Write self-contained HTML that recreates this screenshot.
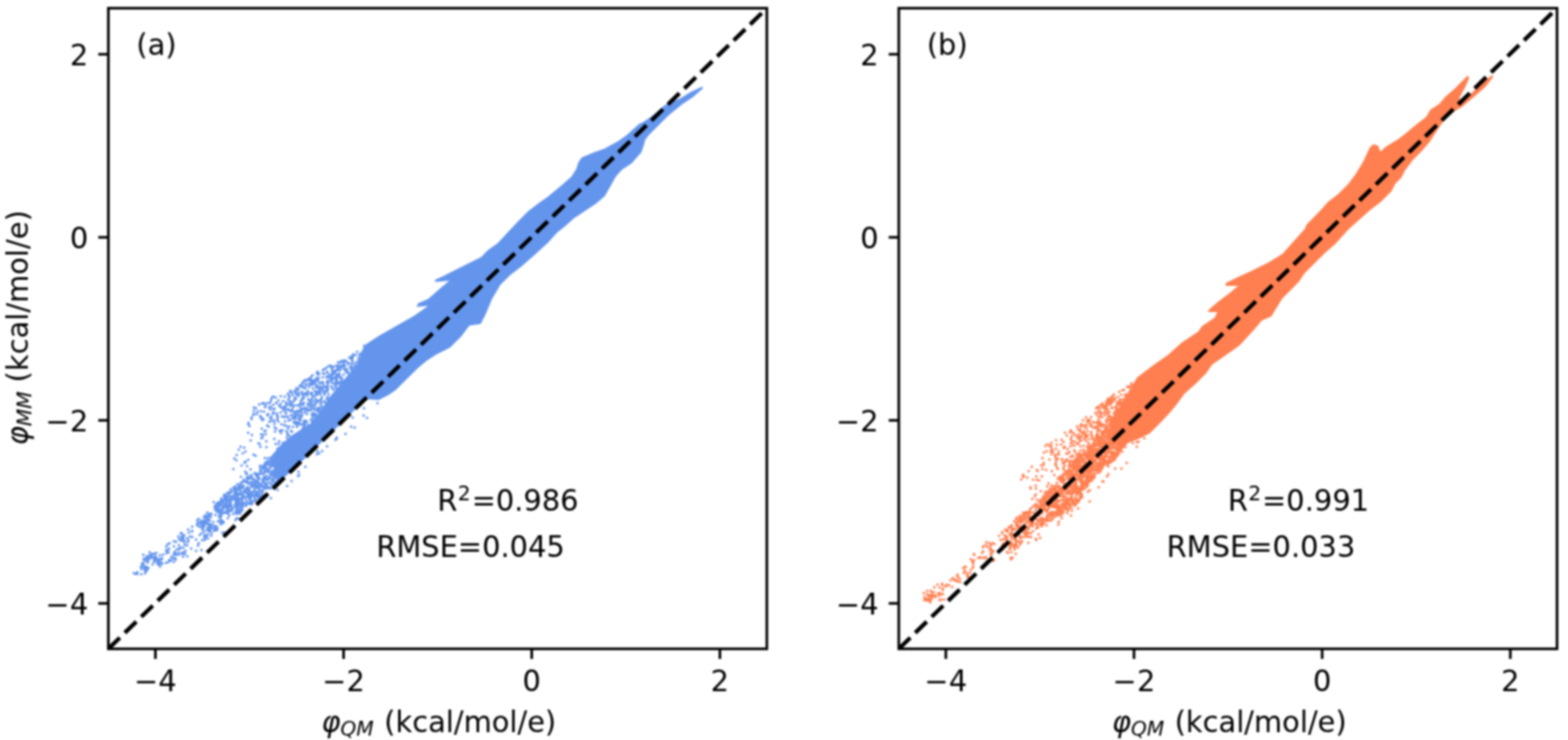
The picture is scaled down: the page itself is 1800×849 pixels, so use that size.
<!DOCTYPE html>
<html><head><meta charset="utf-8"><title>Scatter comparison</title>
<style>html,body{margin:0;padding:0;background:#fff;width:1800px;height:849px;overflow:hidden}</style>
</head><body>
<svg width="1800" height="849" viewBox="0 0 1800 849" style="display:block;filter:blur(0.8px);font-family:'DejaVu Sans','Liberation Sans',sans-serif" font-size="33.2">
<rect width="1800" height="849" fill="#fff"/>
<clipPath id="c0"><rect x="124.4" y="9.4" width="755.9" height="735"/></clipPath>
<g clip-path="url(#c0)">
<path d="M806.3 99.2 792.9 105.5 781.6 112.6 763.2 120.4 747.6 133.8 739.2 139.5 733.5 142.3 719.4 155 709.5 162 693.9 170.6 682.6 174.5 668 180.5 664 186 661.5 194 656.1 202.5 644.8 212.4 627.8 226.5 619.4 232.2 606.6 242.1 593.9 254.8 581 268.5 571.3 279.1 560 287 552.2 295 539.5 301.3 523.6 309.3 507.7 317.2 499 321.2 499.8 323.6 515.7 322 504.5 331.6 491.8 342.7 480 348 478 352 491.5 351 475.4 362.3 456.5 373 434.6 385.4 420 395 409 419 392 439 378 456 367 473 355 487 345 493 333.5 500.5 319.4 513.2 312 523.7 317.6 554.8 334.6 540.7 350 526 380 497 420 458 434.6 459 445.9 453.3 454.4 447.6 465.7 436.3 479.8 422.2 490 413.7 500.8 406.8 516.7 398.8 529.5 386.1 539 373.4 551.7 371.8 557 361.8 565 342.7 574.5 326.8 585.6 315.7 598.3 306.1 612.6 293.4 628.5 279.1 640 266.4 647.6 260.5 658.9 250.6 671.7 242.1 684.4 233.6 694.3 225.1 699.9 215.2 707 202.5 714 194.7 725 187.5 736.3 174.8 739.2 166.3 740.6 160.7 744.8 155 756.1 143.7 767.4 132.4 783 119.7 795.7 111.2 807 101.3Z" fill="#6495ed"/>
<path d="M378.2 430.8h0M381.9 433.9h0M417.9 399.6h0M357.8 475h0M346.3 452h0M387.5 431.5h0M391.2 436.9h0M358.3 452.4h0M370.8 424.4h0M352 451.3h0M395.7 423.2h0M367.6 469.2h0M343.7 442.9h0M333.5 460.5h0M382.2 439.7h0M372.7 460.1h0M335.5 463.7h0M404 422.9h0M364.7 460.5h0M335.3 470.3h0M355.1 435.7h0M351 442.5h0M383 420.7h0M363.2 450.5h0M376.4 455.5h0M365.3 434.1h0M339.3 457.2h0M371.9 442.4h0M404.6 410.8h0M345 470.6h0M350.4 445.7h0M353.3 462.9h0M337.6 459.7h0M346.1 472.3h0M359.9 473.5h0M343.2 476h0M361.5 448.8h0M404.4 415.7h0M351.6 452.5h0M353.3 436.1h0M341.8 484.2h0M361.8 439.9h0M375.1 447.1h0M345.5 441.4h0M359.3 445.8h0M339.5 449.9h0M385.1 444.5h0M370.7 447.3h0M405.6 408.4h0M336.6 460.6h0M343.9 465.2h0M349.8 488.3h0M365.8 442.8h0M376.4 428.2h0M379.9 438.2h0M386.2 445.2h0M333.6 471.3h0M403.7 420.3h0M343.4 485.1h0M391.9 436.7h0M337.5 478.9h0M336 479.6h0M370.8 428.2h0M398.4 423.4h0M347.1 441.5h0M414.1 405.4h0M365.4 444.7h0M360.8 476.6h0M366.4 429.1h0M336.4 467.6h0M337.6 477.4h0M356.4 440h0M372.7 444.3h0M348.1 444.5h0M382.7 446.9h0M365.1 427h0M342.5 446.3h0M339.4 476.9h0M375.3 447.4h0M396.3 419.7h0M395.6 415.1h0M374.5 432.5h0M373.1 462h0M396.9 424.8h0M390.8 423.5h0M376.5 440.5h0M410.4 414.5h0M348.9 487.7h0M349 452h0M342.8 446.4h0M350.8 483h0M370.6 424.6h0M358.4 477.3h0M405.5 406.8h0M363.5 433.5h0M362.5 436.9h0M339.2 476.8h0M413.4 407.5h0M372.5 428.7h0M356.8 467.4h0M389 424.5h0M380.2 433.6h0M348.7 483.8h0M367.2 446.4h0M363.9 428.1h0M375.3 456.7h0M407.7 416.2h0M366 438.7h0M332.9 464.5h0M371.2 449h0M333.6 471.7h0M350.9 485.2h0M388.1 424.8h0M377.2 452.1h0M357.1 440.1h0M360.4 436.2h0M391.4 414.4h0M403.8 417.6h0M349.9 469.5h0M350.1 435.9h0M349.2 490.5h0M346.7 486.7h0M389.8 432.1h0M363.6 427.5h0M362.1 475.5h0M353.6 465.2h0M351 441.6h0M368.7 443.4h0M384.7 427.1h0M358.8 430.5h0M347.8 468.8h0M333 449.2h0M351.1 435.9h0M381 431.6h0M396.4 414.5h0M343.8 481.6h0M382 427h0M353.4 471.2h0M415.1 405.4h0M352.9 453.7h0M365.6 448.9h0M344.7 463.1h0M358.1 450.5h0M362.1 435.8h0M395.5 415h0M338 456h0M363.4 444.4h0M404.2 410.7h0M400.7 416.8h0M404.6 412.9h0M376.6 432.6h0M333.7 450.1h0M405.4 406.5h0M386.4 425h0M367.8 452.1h0M368.3 459.6h0M370.2 438h0M332.1 455.7h0M375.4 432h0M347.4 491.2h0M412.4 411.2h0M403.4 409.1h0M375.5 426.3h0M344.5 486.8h0M345.2 471.9h0M340.4 447h0M387.3 430.3h0M386.7 433.6h0M401.8 420.9h0M362.4 469.9h0M403.8 419.9h0M385.4 437.4h0M350.2 452.2h0M386.2 441.5h0M342.1 486.8h0M338.6 457.5h0M331 458.2h0M380.6 429.3h0M388.1 438.5h0M352.4 483.5h0M335.3 471.3h0M348 454.6h0M375.6 457.9h0M403.2 412.1h0M360.2 468.5h0M394.1 421.1h0M379.8 437.7h0M353.9 457.9h0M397.2 427h0M351.5 483.9h0M369.3 466h0M381.3 425.2h0M349.1 456h0M337 484.3h0M339.6 486h0M335.9 452.9h0M362.7 475.1h0M335.9 480h0M386.8 423.2h0M398.2 415.1h0M358.7 436.5h0M355.4 465.1h0M361.2 464.1h0M403.8 411.7h0M346.6 443.5h0M361.2 476.5h0M353.5 487.5h0M339.9 457.4h0M337.3 472.2h0M386.5 429.9h0M366.1 433.7h0M410.1 403.4h0M351 440.2h0M344 477.6h0M347.7 457.5h0M365.9 472.5h0M386.9 440.4h0M342.8 454.2h0M366.4 467.6h0M387.7 439.5h0M358.2 456.6h0M386.7 419.5h0M368.1 439.6h0M385.9 435.1h0M346.5 459.1h0M333.4 448.2h0M344.5 471.6h0M339.1 451.3h0M376.1 457.6h0M348.9 462.1h0M365.3 469.7h0M354.7 434.2h0M367.8 463.4h0M350.2 467.7h0M349.7 473.5h0M341.6 471.1h0M372.2 450.1h0M350.3 489.5h0M361.8 457.6h0M372.1 423.8h0M406.6 421.2h0M357.2 442h0M368.6 457.5h0M389.3 430.5h0M335.1 476.1h0M342.6 476.5h0M389 419.5h0M351 471.1h0M345.1 482.3h0M347.8 462.9h0M380 420.9h0M374.2 443.8h0M372.1 450.1h0M363.7 436h0M416.5 402.4h0M332.6 454.7h0M376 442.5h0M360.5 479.4h0M363 441.5h0M349 437.6h0M368 449.3h0M404.4 423.7h0M375.3 421.6h0M356.9 452.5h0M333.6 465.8h0M391.3 415.8h0M390 439.9h0M389 431.1h0M380.6 420.3h0M357.2 436.3h0M358.7 437.2h0M334.9 450.6h0M388 415.8h0M341 489.7h0M337.9 480.2h0M394.7 418.7h0M396 413.4h0M334.5 470.9h0M331.3 458.8h0M358 466.5h0M344.9 479.4h0M363.1 451.3h0M369.5 461.3h0M343 473.1h0M362.7 458.2h0M386.7 436h0M364.7 472.1h0M381 423.7h0M359.9 454.4h0M384.1 425.2h0M363.9 462.1h0M402.7 422.8h0M368 452.5h0M381.5 421.8h0M348 468.5h0M352.9 468.6h0M337.9 474h0M399.5 417.8h0M372.9 452.8h0M346.3 463.7h0M362.7 450.3h0M366.2 445.7h0M339.6 457h0M400.9 410.3h0M383.7 428.8h0M381 420.6h0M383.8 433.9h0M340.8 489h0M353.1 450.3h0M390.3 433.5h0M390.9 424.3h0M394.6 414.1h0M349.8 486.5h0M338.7 486h0M370.7 428.3h0M343 480.3h0M354 435.4h0M345.1 443.1h0M390.1 415.7h0M373 423.1h0M395.4 423.8h0M418.1 396.6h0M346.2 470.5h0M394 414.3h0M384.8 443.6h0M346.7 476.5h0M363.4 453.3h0M370.1 445.5h0M340.9 465h0M358.9 464.7h0M364.3 468.6h0M376.2 447h0M352.5 475.1h0M392.9 414.1h0M331.6 453.7h0M381.9 446.2h0M374.4 444.1h0M343.2 451.1h0M365 436.2h0M399.9 428.2h0M352.4 436.4h0M386.9 430.7h0M369 444.5h0M387.7 421h0M391.1 421.8h0M385.9 419.6h0M376.8 437.5h0M357.5 458.5h0M340.8 453.2h0M354.2 440.7h0M356.4 434.8h0M337.9 448.5h0M348.1 464.6h0M371.5 448.7h0M385.2 441h0M349.9 445.2h0M364.5 452.4h0M407.6 418.4h0M380.1 443.2h0M356.6 470.7h0M369.6 467.1h0M361.7 461.2h0M412.3 407.5h0M381.5 436h0M384.7 432.2h0M370.7 439.9h0M395.1 423.7h0M365.2 449.4h0M364.6 426.6h0M375 438.5h0M343 451.4h0M380.8 443.7h0M376.6 445.7h0M391.7 433.2h0M362.2 453.3h0M366.1 450h0M369.6 456.2h0M376 444.5h0M367 472.2h0M357.6 462.7h0M374.8 449.2h0M353.9 458.4h0M381.7 435.3h0M399.4 426.6h0M394.4 429.7h0M339 483.6h0M382.4 429.2h0M370.5 432.8h0M369.6 455.8h0M358.3 483.1h0M403.4 424.8h0M394.7 416.7h0M357.8 480.8h0M378 432.8h0M341.1 475.9h0M389.8 428.5h0M344 464.2h0M405.2 407.5h0M402.4 410.6h0M361.8 465.8h0M348.7 488.2h0M393.6 420.6h0M408.5 407h0M376.2 448.2h0M354.3 470.6h0M364.6 459.4h0M381.1 425.5h0M345.9 478.4h0M358.9 459.9h0M339.8 450.1h0M362.5 444h0M341.4 465.2h0M355.4 434.5h0M332.7 461.6h0M389.7 429.4h0M367.1 459.6h0M392.9 419.3h0M340.4 484.4h0M357.3 432.3h0M394.5 420h0M369.1 462.1h0M340 472.6h0M348.9 484.6h0M392.5 433.6h0M386.5 439.4h0M334.9 463.4h0M368.6 445.2h0M413.5 407.5h0M353.5 448.5h0M379 419.5h0M376.4 438.6h0M356.9 481.7h0M342.8 450.2h0M360 474.9h0M345.2 460.3h0M383.9 440.2h0M347.7 463.8h0M359.2 440.9h0M337.6 465.3h0M388.7 419.6h0M332.5 470.9h0M346.7 457.5h0M345.2 471.9h0M363.2 449h0M363.2 476.5h0M374.5 444h0M355.5 459.8h0M376.3 436.3h0M360.5 438h0M411.4 411.1h0M356.6 438.4h0M380.7 429.1h0M359.1 440.1h0M356.7 451h0M388.3 424.3h0M391.1 438.8h0M337.7 459.7h0M363.5 451.9h0M367.5 446.9h0M380.8 433.8h0M340.1 479.5h0M377.8 419.7h0M374 449.3h0M350.4 451.1h0M340.2 445.3h0M339.2 476.4h0M331.4 453.2h0M393.7 436.7h0M345.1 468.1h0M360.7 469.8h0M340.2 485.7h0M390.8 420h0M347.4 438.8h0M339.9 473.5h0M346.7 449.3h0M356.1 462.3h0M346.4 475.2h0M391.2 433.5h0M349.5 482.6h0M372.1 451.6h0M364.9 429.7h0M330.5 451.8h0M390.4 421.7h0M354.6 444h0M353.6 450.8h0M357.4 469.8h0M387.2 429.3h0M379.6 434.8h0M291.4 467.4h0M315.4 468.9h0M301.9 462.2h0M313.8 472.8h0M320.4 465.6h0M305.2 465.9h0M329.4 478.1h0M308.3 489.2h0M291.9 474.7h0M297.4 463.9h0M328.2 461.4h0M310.8 460.5h0M322.4 493.7h0M324.9 460.3h0M329.8 498.7h0M322.3 454.5h0M334.1 494.3h0M298.7 477.3h0M306.6 488h0M325 470.8h0M326.7 467.4h0M291.3 471.2h0M307.1 475.2h0M322.1 463.4h0M323 486.7h0M318.7 479.9h0M319.6 483.4h0M322.3 467h0M330.2 463.4h0M328.6 488.7h0M332 499.4h0M313.8 464.4h0M315.1 483.3h0M291.4 475.6h0M319.6 459.6h0M330.1 496.6h0M324.3 467.7h0M300.8 463.1h0M303 472.2h0M331.3 482.6h0M300.3 479h0M330.8 491.6h0M304.1 467.1h0M315.7 495h0M322.1 473.2h0M321 494.6h0M308.5 489.5h0M326.9 455h0M328.8 494.6h0M316.8 462.1h0M312.5 455.7h0M294.9 474.9h0M295.7 471.9h0M316.5 456.1h0M308.2 475.3h0M290.5 475.9h0M311.3 478.3h0M327.2 483.2h0M319 477.9h0M310.8 466.4h0M310.1 469.8h0M311.4 457.7h0M322.6 496.8h0M302.5 481h0M309.5 462.5h0M336.1 489.7h0M327.6 466.7h0M324.8 477.9h0M301.4 482h0M330.4 469.4h0M328.6 470.2h0M318 481.1h0M326.6 466.6h0M323.8 477.7h0M300.7 481.1h0M315 486.6h0M317.8 474.3h0M317.9 476.9h0M314.2 482.5h0M335.2 495.2h0M293.9 468.3h0M333.8 476.6h0M313.8 454.9h0M327.6 473h0M315.3 490.4h0M326.8 468.8h0M317.7 462.4h0M309.1 467.5h0M299.4 479h0M328.9 464.2h0M306.5 462.6h0M324.3 493.4h0M299.5 471.7h0M333.2 481.4h0M313.2 468.9h0M328.6 465.3h0M311.3 482.9h0M310 479.4h0M309.2 483.8h0M331.1 469.5h0M318 475.3h0M314.4 473.6h0M313.1 475.1h0M317.2 491.7h0M326.2 487.5h0M326.8 478.2h0M331.8 489h0M330.9 478.7h0M328.5 474.6h0M311.8 479.7h0M307.1 476.4h0M303.7 463.6h0M286.4 488.7h0M300 502.7h0M301.8 498.8h0M296.8 508.6h0M305 498.1h0M301.5 501.8h0M303.7 494.5h0M283.7 534.7h0M285 527.4h0M319.8 509.3h0M311.2 524.4h0M285.2 484.9h0M293.4 523h0M282.6 544h0M268.9 526.1h0M267.9 538.1h0M285.1 486.8h0M304.9 494.1h0M291 521.5h0M280.3 513.4h0M314.9 503.5h0M284.9 496.6h0M316.4 509.2h0M305.9 513h0M283.6 542.9h0M287.8 505.2h0M281.9 530.1h0M277.3 534h0M305.8 506.2h0M271.7 522h0M274 516.1h0M289.2 498.9h0M276.6 547h0M287.7 538.6h0M324.8 507.8h0M299 512.6h0M276.2 512.5h0M299.7 498.2h0M281.4 541.1h0M298.5 534.2h0M304.1 525.6h0M280.7 530.8h0M300.5 491.8h0M281.8 517.9h0M307.4 525.8h0M320.5 506.3h0M329.4 502h0M281.8 529.4h0M288.6 478.9h0M297.9 509.3h0M278.6 520.1h0M271.3 528h0M288.9 480.8h0M289.1 547.5h0M309.9 536.8h0M316.5 555.1h0M315.4 522.3h0M264.1 579.3h0M296.1 569.2h0M274.5 575h0M270.6 560.1h0M305.5 546.2h0M290.2 549.2h0M271.6 579.7h0M297.3 548h0M248.6 578h0M316.3 541.8h0M262.1 583.3h0M316.1 553.1h0M318.6 528.1h0M258.5 587.7h0M279.1 577h0M309.2 553.7h0M273.3 586.4h0M272.2 565.3h0M292.2 542.8h0M284.1 566.5h0M312.5 552.5h0M249.7 579h0M296 557.1h0M278.6 572.4h0M274.5 572.1h0M301.8 536.1h0M285.7 546.4h0M273.6 589.1h0M297.9 567.6h0M288 578.3h0M304.2 540.6h0M310.3 526h0M315.2 528.8h0M316.7 534.2h0M260.6 584.8h0M278.8 579.2h0M292.6 574.6h0M301.4 550.3h0M286.8 566h0M301.1 534.9h0M272.3 585.5h0M306.6 557.8h0M271.6 587.3h0M301.2 566.6h0M276 576.9h0M292.3 567.7h0M302.7 544.3h0M305 540.8h0M259.2 581.9h0M284.8 554.3h0M282.6 580.3h0M294.9 558.7h0M275.3 558.4h0M265.7 579.8h0M301.2 552.6h0M297.5 561.5h0M304.8 541.5h0M307.5 538.8h0M286.5 576.8h0M248.4 578.4h0M270 558h0M261.6 575.7h0M260.9 579.3h0M305.3 555.5h0M292.1 570.3h0M288.7 544.7h0M283.3 559.6h0M262.2 581.6h0M316.5 539.2h0M318.4 518.8h0M279 567h0M297.9 549h0M259.9 571.2h0M283.6 547.8h0M260.1 568.7h0M286.9 568.5h0M298.9 569.9h0M246.5 581.2h0M298.9 562.9h0M271.8 584h0M305 549.1h0M256.9 574.5h0M280.7 578h0M287.1 553.2h0M247.1 584.8h0M299.6 543.5h0M311.2 555.3h0M281.3 563.6h0M312.4 543.3h0M279.2 559.3h0M292.5 568.9h0M295.2 569.4h0M263.2 564.4h0M296.6 550.4h0M256 584.8h0M292.3 571.6h0M263.3 586.5h0M261.7 566.1h0M313.4 533.9h0M259.3 576.8h0M253.3 575.2h0M286.6 577.9h0M282.6 562h0M289.4 576.2h0M296.7 560.4h0M283.9 549.1h0M275.6 561.3h0M277.3 582.4h0M258.8 587.5h0M278.1 568.9h0M301.1 534.8h0M269.8 573.9h0M304.2 555.1h0M253.2 578.2h0M268.7 562.6h0M272.6 555.5h0M316.9 525.9h0M284.7 564.4h0M275.6 585.2h0M266.7 584.6h0M296.3 567.6h0M289.2 564.9h0M289.7 568h0M265.7 573.8h0M296.5 548.3h0M314.4 540.2h0M306.7 531h0M312.4 525.7h0M294.2 559.5h0M293.7 558.1h0M246.6 580.4h0M255.1 589.1h0M272.4 570.1h0M255.7 575.3h0M263.8 575.9h0M292.9 550.4h0M279.5 569.3h0M314.7 556.9h0M300.5 557.6h0M315.2 554.6h0M309.4 529.9h0M313.8 549.5h0M260.7 565.4h0M293.8 553.8h0M300.2 555.5h0M290.2 564.5h0M256.2 576.5h0M308.9 542.2h0M312.2 527.5h0M259.7 572.2h0M275.2 566.7h0M307.1 529.1h0M262.2 588.9h0M270.9 565.9h0M257.5 578.4h0M287 569.3h0M254.4 588.9h0M284.1 559h0M288.8 548.9h0M275.7 583.2h0M316.2 534.4h0M315.1 545.3h0M249.3 585.3h0M276.5 554.9h0M293.8 553.6h0M294.1 559.4h0M316.6 528.4h0M251.1 583.9h0M284.2 566.6h0M291.6 550.4h0M295.6 569.1h0M316.3 529.5h0M275.7 589h0M312 531.5h0M299.8 541.5h0M294.5 573.6h0M271.8 568.7h0M272.8 589h0M293 563.2h0M260 573.6h0M306.2 560.6h0M258.3 568h0M265.1 569.2h0M318.5 514.7h0M253.9 586.8h0M317.2 524.9h0M291.6 568.1h0M264.9 575.6h0M299.4 540.1h0M314.2 557.4h0M296.7 543.6h0M259.6 569h0M294.5 557.7h0M284.9 570.3h0M292.8 567.7h0M304.2 537.6h0M268.8 570h0M298.4 554.9h0M279.2 563.4h0M302.5 547.7h0M252.4 589.1h0M258.3 573.5h0M317.3 522.4h0M264.7 571.6h0M279.9 569.6h0M259.8 588.7h0M253.4 577.3h0M318.7 524.9h0M308.6 538.5h0M258.3 571.9h0M276.4 577.9h0M309.3 558.5h0M315.9 539h0M262.3 584.9h0M275.8 563.3h0M263.6 585.7h0M305.6 533.2h0M294 543.2h0M306.1 540.4h0M295.5 564.6h0M249 581.8h0M286 549.1h0M270.6 574.9h0M304.4 531.1h0M268.4 563h0M311.6 550.3h0M268.5 582.1h0M288.9 578.5h0M283.8 551.3h0M276.3 582.6h0M254.7 585.2h0M277.5 569.7h0M284.2 577.8h0M303.8 541.3h0M261.9 571.9h0M304.7 530.5h0M269.8 570.9h0M282.5 565.9h0M256.1 588.6h0M312.8 556.6h0M272.2 586h0M276.8 560.6h0M276.6 553.6h0M298.1 569.2h0M265.6 579.3h0M315.3 548.1h0M270.3 573.6h0M296.5 544.1h0M256.8 581.3h0M271.7 562.8h0M313.5 544.8h0M286.5 565.4h0M289.1 566.6h0M270.6 587.7h0M280.9 552.3h0M272.4 583.7h0M274.1 561.2h0M303.6 533.7h0M272.3 585.1h0M270.1 577.9h0M257.3 567.6h0M249.9 576.7h0M299.7 569.9h0M252.1 586.1h0M297.8 562.9h0M271.4 571.3h0M278 575.5h0M288 548.8h0M310.6 560.6h0M313.1 557.4h0M273.8 567.6h0M303.6 553.8h0M276.1 565.9h0M287.6 570.6h0M275.7 588.8h0M269 572.9h0M264.9 561.3h0M257.2 580.8h0M256.5 573.2h0M288.8 546.9h0M309.9 548h0M299.5 564.3h0M272.9 585.7h0M277 558.3h0M279.2 581.3h0M275.2 588.1h0M292.6 542.9h0M263.9 577.4h0M251.9 580.3h0M279.8 550.2h0M298.6 570.7h0M270.9 586.7h0M314.2 550.5h0M303.6 532.9h0M312.9 530.6h0M292.1 555.2h0M308.7 548.2h0M252.8 585.2h0M279.7 578h0M280.3 552.1h0M286.4 573.2h0M311 542.2h0M316.9 543.5h0M292 557.6h0M272.3 588h0M292.4 556h0M272.1 560.9h0M267.7 589.6h0M317.1 537.9h0M276.2 584.3h0M289.1 578.2h0M258.7 578.8h0M253 586.6h0M265.3 582.6h0M316.9 545.1h0M253.7 572h0M272.4 565.4h0M299.2 556.6h0M272 584.1h0M289 576.3h0M288 557.4h0M276 556h0M306.4 532.2h0M278.9 552.8h0M295 547.3h0M275.1 567.4h0M295 552.3h0M305.3 536.2h0M296.2 568.2h0M288.6 570.2h0M271.2 568h0M272.6 569.3h0M257 581.9h0M273.6 566.1h0M271.6 582.1h0M309.4 559.6h0M303.2 554h0M263.9 586.1h0M281.2 570.8h0M272.1 572.7h0M262.8 575h0M293.9 566.5h0M292.4 567.8h0M316.6 554.6h0M304.9 531.3h0M266.3 585.9h0M308.5 539.3h0M302.6 542.7h0M254.3 584.3h0M273 573.2h0M270.1 566.8h0M260.3 580.6h0M312.7 531.6h0M288.8 558.5h0M269.5 564h0M290 553.4h0M272.3 584.3h0M254.1 590.9h0M263.3 580.7h0M265.4 574.4h0M264.7 572.5h0M297.4 553.9h0M318.1 526.5h0M283.2 552.1h0M273 581.1h0M261 582.4h0M290.9 557.6h0M316.1 542.3h0M269.8 579.8h0M316.2 541.6h0M294.5 565.6h0M262.7 575.4h0M279.3 578.8h0M273.2 571h0M295.4 552.4h0M281.2 561.8h0M295.7 556.2h0M291.1 574.7h0M278.2 578.6h0M287.4 572.5h0M306.7 554.2h0M246.7 583.4h0M278 578.6h0M296.4 555.2h0M309.2 529.2h0M311.9 539.9h0M266.1 585.7h0M304.3 535.3h0M252.3 586.1h0M286.3 561.5h0M297.2 549.8h0M303.6 549.1h0M260 588.6h0M266.3 571.9h0M306.9 532.7h0M296.9 544.4h0M316 542.2h0M283.2 552.7h0M271.2 570.9h0M294.1 545.2h0M313.4 550.4h0M283 575.2h0M260.1 570.1h0M271.6 577.2h0M292.5 551.2h0M273.4 558.8h0M264.3 578.7h0M286.3 560.6h0M302.9 536.2h0M277.8 566.3h0M315.9 528.1h0M261.8 581.5h0M285.2 547.8h0M282.7 579.1h0M302.2 558.1h0M303.2 537.3h0M287.8 564.3h0M286.2 571h0M253 579.3h0M273 575.3h0M275.9 586.6h0M250.9 587.9h0M283.3 547.9h0M277.8 573.8h0M306.9 550.7h0M311.4 545.3h0M294.3 557.3h0M279.6 558.5h0M272.8 582.6h0M291.8 563h0M307.8 550.2h0M298.2 570.6h0M294 565h0M269.5 560.3h0M303.9 537.3h0M285.8 576.9h0M250.5 587h0M317 543.4h0M317.1 538.6h0M274.6 572.7h0M310.1 529.2h0M278.1 573.3h0M278.3 585.4h0M267.9 559.4h0M313.8 521.8h0M267.8 569.6h0M306.2 546h0M315.3 545.4h0M296.8 559.5h0M265.8 563.8h0M251.8 576.3h0M282.7 569.9h0M311.5 534.8h0M264.5 577.4h0M305.3 557.2h0M251.4 581.2h0M279.7 569.4h0M293.5 567.4h0M316.5 544h0M296.9 571.5h0M293.6 544.9h0M287.6 553.8h0M259.4 588h0M307.5 532.2h0M300.4 569.5h0M310.5 534.3h0M303.7 550.7h0M256.9 569.7h0M262 580h0M269.8 580.1h0M246.4 581.1h0M316.5 531.2h0M288.5 552.9h0M317.2 542.5h0M254.7 580h0M286.1 577.3h0M259.6 569h0M287.9 574.6h0M291.9 560.4h0M314.1 542.4h0M293.2 565.4h0M301.6 538.2h0M305.3 532.8h0M278.4 575.7h0M317.3 526.9h0M276 588.4h0M276.1 580.2h0M303.1 559.4h0M293.2 553h0M269.4 561h0M276.8 579.1h0M307.4 559.4h0M304.6 560.3h0M265.9 585.7h0M301.8 561.8h0M313 557.8h0M318.8 515.5h0M279.5 556.7h0M291.6 550.9h0M292.4 555.2h0M262.2 568.7h0M284.6 560.9h0M269.6 559.4h0M315.8 532.7h0M271.1 576.5h0M257.6 579.5h0M274.9 556.4h0M297.3 558.9h0M254.5 576.4h0M261.5 587.2h0M305.4 531.3h0M318.3 539h0M268.7 567.1h0M255.5 580.9h0M311.2 532.3h0M297 566.2h0M254.5 574.5h0M302.1 537.3h0M302.5 550h0M310.5 526h0M263.4 575.3h0M284.8 568.3h0M278.7 557.9h0M309.2 533.4h0M282.6 573.8h0M273.8 579.3h0M311.4 542.8h0M314 550.9h0M316.8 524.1h0M310 545.8h0M318.7 515.2h0M273.2 578.5h0M261.3 572.5h0M260 576.2h0M317.8 530.6h0M288.6 548.4h0M258.2 587.2h0M289.2 556h0M271.1 574.9h0M311.2 531.8h0M303.2 548h0M285.2 555.2h0M294.8 567.5h0M273.6 585.6h0M306.1 537h0M305.8 548.9h0M298.4 540.6h0M305.1 560.2h0M293.8 544.1h0M284.8 563.5h0M262.5 579.6h0M298.6 537h0M262.7 568.7h0M267.6 570.2h0M271.4 573.1h0M287.8 577.5h0M302.4 538h0M260.9 575h0M286.2 572.7h0M264.6 565.7h0M302 563.4h0M278.3 570.9h0M285 560.3h0M299.4 558.7h0M258.3 570.9h0M254.1 572.4h0M265.5 582.9h0M314.8 535.5h0M300.9 568h0M277.3 584h0M312 534.7h0M288.2 548.4h0M270.9 585.5h0M304 557.5h0M255.4 583h0M307.1 540.8h0M282.3 565.6h0M259.4 569.2h0M302 550.3h0M314.4 539.8h0M274.9 588.7h0M270.9 589.3h0M311.3 529h0M254.2 580.1h0M316.3 521.3h0M269 567.2h0M275.8 572.4h0M248.7 586.8h0M273.9 576.5h0M280.3 577.2h0M251.4 580.9h0M295.6 546.7h0M316.2 519.7h0M297.5 570.5h0M313.8 547.8h0M289.5 577.4h0M313.7 534.5h0M276 587.8h0M253.2 588.4h0M281.9 551.9h0M310.2 546.3h0M279.5 564.2h0M283.3 553.6h0M187 636.2h0M211.9 621.5h0M202.1 621.4h0M220.7 604.3h0M179.1 642.2h0M229.2 613.7h0M220.3 609h0M199.6 626.8h0M226 602.1h0M184 640.8h0M240.1 607.5h0M212.9 632h0M167.7 649.9h0M193.7 633.5h0M205.4 618.3h0M191 632h0M234.4 610.1h0M176.5 644.4h0M227.8 603.4h0M255.1 598.1h0M162.1 658.7h0M211.6 613.9h0M186.1 646.9h0M228.4 600.1h0M216 607.5h0M163.3 649h0M169.8 645.2h0M232.4 607.5h0M183.8 649.9h0M244.9 598.9h0M216.3 619.5h0M199.6 621h0M162.4 652.9h0M187.3 636.4h0M231.4 611.7h0M234.8 615.1h0M191.2 634.8h0M247.5 604.8h0M216.8 611.1h0M263.2 591.5h0M234.9 613.5h0M183.5 636.9h0M192.5 624.6h0M165 646.3h0M181.8 644.2h0M261.5 594.4h0M194.6 623.2h0M179.4 634.3h0M232.8 602.7h0M175.1 647.6h0M220.6 609.8h0M181.6 643.1h0M233.6 601.4h0M231.5 598.8h0M234.1 600h0M233.2 597.2h0M232.4 601.4h0M230.4 598.1h0M230.8 600.9h0M232 597.7h0M232 601.2h0M230.5 601.1h0M235.1 593.7h0M233.9 592.9h0M238.6 595h0M238.7 592.1h0M238.7 594.3h0M238.7 596h0M242.1 592.9h0M235.5 594.2h0M235.3 592.5h0M241.7 601.8h0M237.7 600.4h0M239.3 606.1h0M241.3 602.3h0M237.7 606.4h0M239.1 602.3h0M238.7 605.2h0M240 601.3h0M244.3 603.2h0M239.8 609.7h0M245.5 606.7h0M240.7 604.7h0M241.3 605.7h0M244.1 603.4h0M239.6 607h0M242.8 602h0M240.6 606.7h0M242.7 606.1h0M242.5 605.5h0M248.9 582.2h0M251.1 578.1h0M245.3 576h0M247.9 581h0M235.6 617.4h0M236.9 615.2h0M235 619.5h0M232.1 619.6h0M228.3 623.2h0M211 633.8h0M211 633.6h0M204.6 635.3h0M209.6 634.4h0M208.4 635.6h0M210.2 638.8h0M208.8 634.4h0M211.7 635.5h0M205.2 634.1h0M212.4 635.5h0M210.1 633.9h0M166.9 652.7h0M165.1 651h0M169.1 653.5h0M163.1 646.2h0M167.3 651.5h0M165.8 649.9h0M165.6 652.5h0M161.7 650.5h0M163.7 648.5h0M163.2 648h0M166.5 650h0M237.1 614.6h0M234.5 615.9h0M238.9 613.2h0M166.7 654.6h0M166.5 657.7h0M166.3 652.2h0M166.2 653.5h0M168.1 655.1h0M170 651.2h0M168.5 654.5h0M167.9 653.6h0M166.9 656.2h0M170.3 651.8h0M248.4 608.4h0M247.8 604.1h0M247.8 606.3h0M249 604.2h0M249.8 606.9h0M246.6 603.2h0M240.7 590h0M240.2 592.5h0M236 591.1h0M237.9 593.4h0M240.1 590.3h0M239.7 590.3h0M238 587.9h0M242.8 589.5h0M241 591.8h0M241.4 589.5h0M241.4 590h0M242.2 601.8h0M247.1 608.3h0M242.9 611.6h0M238 608.5h0M241.2 609h0M245.6 608.7h0M241.4 608h0M208.2 617h0M209.4 618h0M209.2 619.6h0M210.4 616.7h0M207.5 620.2h0M210.5 617.5h0M214.7 617.6h0M210.3 620.6h0M211.9 620.7h0M217.9 615.4h0M220.7 616h0M225.1 618.9h0M215.5 622.1h0M211.8 624.5h0M212.1 625.1h0M214.8 625.8h0M173.8 638.4h0M172.9 636.5h0M169.4 639.3h0M171.8 633.6h0M176.1 640.5h0M170.2 640.5h0M168.1 638.2h0M171 637.6h0M174.2 639.5h0M173.9 637.8h0M174.7 635.3h0M204.9 615.3h0M207.5 611.6h0M208.8 611.8h0M209.1 614.4h0M253.6 592.4h0M247.3 590.8h0M252 593.7h0M252.4 594.1h0M251.4 592h0M201.8 642h0M194.3 642.3h0M199.5 644.4h0M198.9 640.6h0M199.5 640.4h0M194.3 643.8h0M196.6 642.7h0M201.3 640.5h0M197.8 639.7h0M196.7 638.8h0M190.7 645.8h0M191.6 645.6h0M186.2 640.7h0M194.3 644.2h0M168 641.2h0M164.9 641.8h0M166.4 641.5h0M168.9 644.5h0M164.4 636.5h0M167.6 642.3h0M165.1 641h0M167.3 641.2h0M165.6 643.1h0M170.5 641.2h0M235.9 596.8h0M240.7 596.8h0M238.1 600.2h0M239.2 595.7h0M235.2 598.6h0M241 597.2h0M239.1 600h0M236.8 599.7h0M237.8 597h0M207.1 628.2h0M210.5 628.2h0M203.2 630.1h0M206.3 629.4h0M207.4 628.8h0M205.3 625.5h0M205.1 630.1h0M254.3 600.2h0M253.3 599.5h0M256.6 599.7h0M254.7 597.3h0M250.2 598h0M253.5 601.4h0M252 598.6h0M253.8 596.2h0M256.5 598.6h0M255.2 598.5h0M190.7 631.4h0M190.7 626.9h0M194.1 629.3h0M192.3 630.8h0M201.7 636.5h0M199.4 636.5h0M201 632.4h0M204.9 636.5h0M200.1 634.1h0M201.8 635.6h0M226.5 596.7h0M228.3 595.3h0M226.8 599.6h0M230.9 598h0M155.8 658.6h0M157.7 658.2h0M157.7 656.6h0M153.7 657.4h0M185.2 641.7h0M183.1 645.7h0M181.1 647.5h0M183.3 642.6h0M182.8 647.8h0M180.6 645.3h0M183.8 645.7h0M183.5 646h0M181 641.7h0M183.3 644.7h0M186.1 645.8h0M233.3 602.9h0M232.3 604.5h0M234.8 603.6h0M233.3 607.4h0M235.7 598.4h0M232.4 599h0M233.1 605.2h0M232.5 600.5h0M234.9 601.7h0M230.4 604.7h0M231.2 604h0M174.6 638.7h0M177.3 641.6h0M178.2 640h0M170.7 642.3h0M177.6 644.2h0M179.1 642.3h0M176.4 640h0M176.9 635.5h0M178.3 637.8h0M179.8 640.1h0M172.6 640h0M242.5 614.5h0M225.1 631.9h0M231.2 631h0M255.2 610.9h0M215.1 638.3h0M257.6 610.9h0M227.3 626h0M273.1 595h0M238.7 617.7h0M271.8 594.6h0M270.2 596.7h0M227.8 623.4h0M219.5 629.2h0M417.9 468.3h0M375.5 512.1h0M421.3 479.5h0M350.6 535.5h0M343.3 545.1h0M413.5 465.3h0M407.1 490.5h0M386.6 501.9h0M366.4 520.1h0M417.4 476.8h0M433.3 462.4h0M342.1 546h0M403 489.5h0M342.6 541.2h0M334.8 551.8h0M369.8 517.4h0M396.7 497.8h0M318.7 562h0M386.4 503.3h0M385.1 504.4h0M363.8 520.9h0M364.4 517.6h0M336.9 539.5h0M310.9 571.6h0M404.9 479h0M329.6 557.5h0" stroke="#6495ed" stroke-width="3" stroke-linecap="round" fill="none"/>
<line x1="124.4" y1="744.4" x2="880.3" y2="9.4" stroke="#000" stroke-width="4.7" stroke-dasharray="18.4 7.95"/>
</g>
<rect x="124.4" y="9.4" width="755.9" height="735" fill="none" stroke="#000" stroke-width="3" stroke-linejoin="miter"/>
<path d="M178.4 744.4v11.6M124.4 692.3h-11.6M394.4 744.4v11.6M124.4 482.3h-11.6M610.4 744.4v11.6M124.4 272.3h-11.6M826.4 744.4v11.6M124.4 62.3h-11.6" stroke="#000" stroke-width="3" fill="none"/>
<text x="178.4" y="793.1" text-anchor="middle">−4</text>
<text x="101.3" y="705.2" text-anchor="end">−4</text>
<text x="394.4" y="793.1" text-anchor="middle">−2</text>
<text x="101.3" y="495.2" text-anchor="end">−2</text>
<text x="610.4" y="793.1" text-anchor="middle">0</text>
<text x="101.3" y="285.2" text-anchor="end">0</text>
<text x="826.4" y="793.1" text-anchor="middle">2</text>
<text x="101.3" y="75.2" text-anchor="end">2</text>
<text x="156.5" y="63.3">(a)</text>
<text x="502" y="586.4">R</text>
<text x="525.5" y="574.4" font-size="23.2">2</text>
<text x="541.4" y="586.4">=0.986</text>
<text x="431.9" y="639.3">RMSE=0.045</text>
<text x="369" y="839.6" font-style="italic">φ</text>
<text x="390.8" y="843.6" font-style="italic" font-size="23.2">QM</text>
<text x="441" y="839.6">(kcal/mol/e)</text>
<clipPath id="c1"><rect x="1031.8" y="9.4" width="755.6" height="735"/></clipPath>
<g clip-path="url(#c1)">
<path d="M1713 86 1700 96.5 1689 107 1679 116 1675 113 1682 100 1686.5 90 1685 86.5 1669.3 102.2 1659.4 110.8 1651.9 119.5 1642 125.7 1637.1 134.3 1627.2 141.7 1612.4 154.1 1604.6 159.9 1590.5 168.4 1584.8 174 1582 167 1576.3 165.5 1572.1 169.8 1565 185.3 1556 200 1547.6 211.3 1536.3 222.6 1524 232 1518 239 1511.3 246.1 1500 257.4 1497.7 262.7 1484.9 277 1472.2 291.3 1456.3 300.9 1437.2 310.4 1419.8 318.4 1407 324.7 1407 327.9 1421.3 327.9 1411.8 335.9 1399.1 345.4 1388 354.9 1386.4 358.1 1397.5 358.1 1394.3 364.5 1380 374 1375.4 380.4 1356.3 393.2 1340.4 407.5 1324.5 418.6 1305.4 432.9 1295 450 1283 470 1272 486 1284.9 519.5 1294.5 508.4 1307.2 503.6 1319.9 497.2 1332.6 484.5 1343.6 472.7 1351.6 463.1 1359.5 452 1373.8 439.3 1384.9 428.1 1391.3 418.6 1407.2 407.5 1423.1 396.3 1439 378.9 1448.5 367.7 1459.5 362.9 1464.3 354.9 1472.2 342.2 1481.8 332.7 1491.3 323.1 1497.7 313.6 1507.2 304.1 1521.5 289.8 1532.6 280.2 1548.5 262.7 1560.8 251.8 1573.5 240.5 1584.8 232 1597.5 219.3 1601.8 210.8 1608.8 203.7 1613.1 195.2 1621.6 183.9 1632.9 172.6 1641.3 162.7 1649.5 150 1656.9 139.3 1669.3 128.1 1679.1 121.9 1694 109.6 1705.1 99.7 1714 88.6Z" fill="#ff7f50"/>
<path d="M1260.3 472.4h0M1280.5 472.2h0M1256.8 489.8h0M1246.8 506h0M1274.9 463.8h0M1241.4 486.6h0M1298.7 439.8h0M1278.8 473.6h0M1264.3 486.7h0M1244.3 494.5h0M1271.8 472.9h0M1282.4 463.8h0M1271.9 461.8h0M1262.9 471.5h0M1286.5 462h0M1259.6 489.1h0M1241.4 505.2h0M1237.4 492.3h0M1271.6 479.1h0M1252.7 495.3h0M1265.8 464.8h0M1247.2 501.4h0M1260.4 499.5h0M1274.5 456.7h0M1279.6 458.8h0M1264.4 474.2h0M1250.2 481.4h0M1269.1 465h0M1271.6 458.5h0M1246.7 499.6h0M1252 488.9h0M1244.8 489.8h0M1275.6 478.3h0M1240.5 489.5h0M1253.4 499.6h0M1266.6 465.8h0M1260 492.2h0M1284.8 449.4h0M1289.3 458.1h0M1257.5 490.8h0M1294.1 443.7h0M1272 473.1h0M1283.7 463.1h0M1273.8 472.8h0M1270.6 473.9h0M1299.1 441.8h0M1262.4 472.8h0M1272.7 476.2h0M1285.3 459h0M1261.7 484.8h0M1271.8 469.8h0M1286.1 464.3h0M1281 469.8h0M1259.6 497.6h0M1251.1 482.4h0M1266.2 467.6h0M1269.8 461.3h0M1251.1 485.6h0M1253.9 503.8h0M1275.5 461.3h0M1254.9 484.3h0M1297 443.6h0M1246.6 501.5h0M1236.6 489h0M1263 465.1h0M1271.9 460h0M1256.5 503.8h0M1282.1 470.1h0M1241.4 496.2h0M1269.6 469.1h0M1268.9 488.9h0M1286.5 458.4h0M1282.2 461.7h0M1239.5 500.7h0M1243.3 498h0M1271 460.7h0M1269.3 467.8h0M1247.4 491.6h0M1261.7 478.4h0M1256.1 484.5h0M1260.9 492.5h0M1269.6 481.9h0M1271.7 482.1h0M1262.3 488.2h0M1274.2 481.8h0M1256 491.1h0M1252.5 497.8h0M1280 467h0M1272.9 457.7h0M1253.4 489.2h0M1260.3 489.4h0M1287.5 461.5h0M1273.6 477.1h0M1263.9 476.6h0M1261.1 481.6h0M1259.8 483.9h0M1259.6 499.7h0M1270.8 482.9h0M1269.8 463.2h0M1263.4 484.6h0M1265.3 463.6h0M1290.3 447.3h0M1248.1 482.1h0M1258 500.8h0M1262.6 467.7h0M1287.1 453h0M1252.6 478.4h0M1283 468.7h0M1257.5 473.8h0M1276.1 467.2h0M1292.3 452.2h0M1270.3 474.3h0M1246.1 498h0M1266.9 468.3h0M1245.3 487.8h0M1244.8 503.6h0M1240.3 492.9h0M1276.7 454.6h0M1261.3 485.5h0M1288.3 447.7h0M1264.9 479.1h0M1279.9 456.3h0M1269 471.3h0M1250.4 482.5h0M1243.2 481.9h0M1240.5 501.5h0M1246.6 502h0M1284.3 460.8h0M1241.9 488.2h0M1249.9 504.1h0M1278.9 474.7h0M1258.4 499.8h0M1270.9 465.7h0M1263.5 475.2h0M1267.3 473.2h0M1276.9 457.1h0M1253.6 501.6h0M1260.9 467.8h0M1274.9 480.1h0M1262.7 493.6h0M1294.5 443.3h0M1276.7 461.7h0M1241.9 500.7h0M1263.4 487.4h0M1266 487.2h0M1248.5 494.9h0M1264.2 486.9h0M1265 489.8h0M1259.4 476.3h0M1274.2 460.7h0M1247.8 499.5h0M1239.6 501.9h0M1273.2 464.1h0M1249 499.8h0M1259 485.5h0M1279.8 458h0M1283.5 455.6h0M1239.6 494.5h0M1252.9 487.6h0M1269.2 466.8h0M1296 444.4h0M1261.7 468.4h0M1278.7 452.6h0M1259.9 466.8h0M1260 495.1h0M1265.4 462.7h0M1272.1 459.3h0M1273.7 462.7h0M1258.4 468.5h0M1260.6 498.9h0M1260.7 484.7h0M1253.9 502.4h0M1274.7 458.9h0M1274.7 480h0M1244.8 496.2h0M1256.3 491h0M1271.9 457.4h0M1283.7 462.2h0M1282 466h0M1276.6 468.4h0M1277.6 459.9h0M1267.8 466.5h0M1268.1 476.6h0M1250.6 482.1h0M1291.5 453.9h0M1264.8 495.5h0M1272.4 459.7h0M1269.7 468.8h0M1248.1 484.1h0M1270.4 484.9h0M1272.4 458.1h0M1246.6 478.7h0M1247.9 487.7h0M1261.5 486.2h0M1283.9 464.1h0M1267.7 487.3h0M1245.6 501.1h0M1258.3 500.4h0M1240.7 487.4h0M1243.7 516.1h0M1233.2 516.4h0M1222.6 496.6h0M1225.6 515.2h0M1219.9 531.6h0M1238.1 503.2h0M1221.1 514h0M1212.3 533.6h0M1222.8 529h0M1213.1 510.3h0M1202.5 509.8h0M1239.6 505.5h0M1209 517.8h0M1204.9 511.9h0M1211.4 533h0M1221.6 512.6h0M1215.6 517.9h0M1234 506.6h0M1233 511.3h0M1238.2 519.8h0M1236.6 509.6h0M1207 508.1h0M1240.5 517.1h0M1224.9 527h0M1221 507h0M1222.4 530.6h0M1223.9 527.9h0M1226.7 529.1h0M1225.7 520.2h0M1221.7 539.8h0M1229.2 493.7h0M1212.1 530.9h0M1212.8 527.5h0M1214.2 521h0M1244.4 517h0M1212.2 505h0M1228.9 529.1h0M1211.5 523.1h0M1220.8 530.3h0M1238.3 508.4h0M1230.8 496.1h0M1231.9 523.9h0M1211.8 524.9h0M1235.1 499.9h0M1238.5 522h0M1219.4 526.4h0M1248.1 512h0M1212.2 515.1h0M1232 510.6h0M1237.3 502.3h0M1224.8 499.8h0M1218.8 504.4h0M1249.5 508.5h0M1228.2 495.8h0M1221.2 536.5h0M1234.1 518.2h0M1218.9 527.5h0M1210.9 521.7h0M1222.6 513.1h0M1236.6 508.5h0M1229.4 508.4h0M1240.2 512h0M1207.5 519h0M1243.9 511.4h0M1213.2 536.2h0M1214.4 537.9h0M1206.6 511.4h0M1227.8 518.5h0M1233.2 497.6h0M1229.8 504.4h0M1204.7 527.3h0M1229.2 503h0M1212.3 528.1h0M1230.6 500.2h0M1224.1 520.2h0M1215.5 521.5h0M1205.4 510.9h0M1207 518.3h0M1231 522.6h0M1228.7 512.1h0M1207.7 514.6h0M1250 508.6h0M1200 511.6h0M1228.2 530.8h0M1238 498.6h0M1206.3 516.9h0M1207 520.9h0M1235.5 521.4h0M1201.5 517.8h0M1218 509.9h0M1220.4 536.9h0M1214.4 526.3h0M1229.6 503.7h0M1231.2 506.7h0M1228.7 524.3h0M1222 534.1h0M1185 572.3h0M1172.4 549.9h0M1183.3 560.6h0M1189.2 560.5h0M1191.3 540.2h0M1198.2 531h0M1188 569.3h0M1179.2 548h0M1193.1 551h0M1196.7 525.6h0M1196.8 538.1h0M1180.9 540.4h0M1189 567.2h0M1174.3 544.7h0M1199.7 564.9h0M1186 550.3h0M1197.9 533.3h0M1202.2 558h0M1203.7 554.5h0M1188.9 557.1h0M1174.5 546.9h0M1184.5 535.4h0M1190.5 573.4h0M1196 546.6h0M1189.6 546.5h0M1210.4 544.9h0M1195.3 534.1h0M1198.3 519.2h0M1207.5 540.5h0M1200.9 539.1h0M1175.6 546.6h0M1182.8 559h0M1190.2 539.3h0M1214.2 549h0M1194.8 563.5h0M1190.3 550.4h0M1252.7 511.3h0M1263.6 520.4h0M1261.3 535.8h0M1255.4 522.8h0M1265.8 530.9h0M1274.3 527.4h0M1251.7 517.9h0M1255.3 528.9h0M1233.8 535.3h0M1268.4 500.6h0M1254.8 536.5h0M1251.4 530.1h0M1235.5 534.3h0M1271.5 515.4h0M1250.8 552.4h0M1268.1 492.5h0M1280.5 525.7h0M1261.1 517.1h0M1245 521.2h0M1263.8 503.4h0M1281.9 514.6h0M1256.9 510h0M1248 557.3h0M1279.7 522.6h0M1273.4 507.2h0M1248.5 537.7h0M1274.7 523.7h0M1253.1 524.9h0M1265.5 504.1h0M1241.5 551.4h0M1272.3 500.6h0M1255.8 548.4h0M1273.9 503.1h0M1255.5 530.1h0M1253.4 528.7h0M1258 511.9h0M1272 518.5h0M1281.6 519.8h0M1233.6 529.9h0M1243.5 546.6h0M1264.5 508.3h0M1270.2 499.9h0M1273.6 531.2h0M1271.6 532.1h0M1254.4 530.2h0M1260.3 507.3h0M1245.4 545.8h0M1267 523.8h0M1250.5 538.7h0M1270.5 514.7h0M1272.4 518h0M1243.8 541.6h0M1261.9 504.7h0M1266.4 529.7h0M1248.2 553.8h0M1263.5 511.5h0M1265 497.4h0M1254.4 546h0M1240.2 521.2h0M1241.5 546h0M1262 515.4h0M1240 537.6h0M1250 519.9h0M1269 520.3h0M1262.2 511.8h0M1251 514.6h0M1280 513.4h0M1258.7 536.3h0M1269.1 522.2h0M1252.9 528.1h0M1257.8 538.5h0M1257.9 523.3h0M1266.1 517.5h0M1267.6 514.6h0M1250.7 511.6h0M1241.8 545.2h0M1277.1 506.9h0M1260.1 520.4h0M1235.5 540.9h0M1274.1 494.1h0M1267.1 499.1h0M1257.3 519.7h0M1240.8 538.8h0M1249.9 520.7h0M1249.6 527.9h0M1246.8 548.1h0M1249.5 538.2h0M1273.4 492.6h0M1256.4 519h0M1232.1 533.6h0M1272.8 502.7h0M1242 543.7h0M1245.4 556.6h0M1274.1 514.8h0M1264.1 496.5h0M1244.3 529.3h0M1265.4 507.4h0M1257.3 510.9h0M1253.9 527.1h0M1246.4 530.7h0M1243.1 539.8h0M1256.2 509.2h0M1282.8 518.4h0M1261.4 531.2h0M1271.6 493.6h0M1260.1 506h0M1263.3 540.8h0M1262.5 528.2h0M1261.9 515.5h0M1243.3 554.6h0M1269 518.1h0M1249.2 540.9h0M1236.5 540h0M1240.9 546.3h0M1274.6 507.8h0M1273.6 529.4h0M1242.1 537.4h0M1266.9 513.8h0M1242.7 525.4h0M1242.3 522.1h0M1248.9 553.2h0M1279.3 506.5h0M1279.2 524.4h0M1255.8 542.8h0M1235.6 541.1h0M1247.1 520.6h0M1274.2 505.1h0M1249.1 549.3h0M1264.9 522.6h0M1277.3 518.2h0M1257.9 512.1h0M1248.2 523.8h0M1275.8 530.1h0M1235.4 533.2h0M1236.3 536.4h0M1273.9 519.6h0M1261.1 510.9h0M1232.4 538.6h0M1259.4 532.3h0M1268.5 529.4h0M1256.2 506.6h0M1250.8 534.9h0M1264.1 532.2h0M1262.9 534.4h0M1276.2 514.9h0M1239.8 541.8h0M1242.3 552.5h0M1251.7 514.3h0M1251.9 551.3h0M1269.3 528.4h0M1257.1 539.6h0M1271 519.1h0M1276.3 507.4h0M1250.3 529.1h0M1280.4 508.4h0M1275.9 499.6h0M1271.6 500.7h0M1247.3 558.7h0M1235.1 529.5h0M1243.6 542.5h0M1231.8 536.6h0M1246.7 536.1h0M1270.3 490.5h0M1270.3 514.5h0M1265.8 512.1h0M1232.1 534.6h0M1270.5 506h0M1264.6 531.2h0M1280.5 525.7h0M1271.5 501.8h0M1267.7 499.8h0M1240.1 545.3h0M1232 529.6h0M1253.7 544.5h0M1273.2 510.9h0M1281.4 511.1h0M1263.7 505.2h0M1269.1 507.2h0M1252 540.1h0M1275.1 496.5h0M1241.3 523.1h0M1262.2 505.5h0M1273.2 501.9h0M1253.2 537.2h0M1240.6 535.6h0M1234 534.8h0M1261.9 525.8h0M1243.3 552.9h0M1275.5 500.4h0M1261.6 500.8h0M1276.8 514h0M1247.6 538.4h0M1258.2 510.6h0M1257.9 505.9h0M1255.8 523.5h0M1251.8 546.7h0M1235.9 526.2h0M1274.1 528.7h0M1247.7 555.4h0M1245.1 522.2h0M1253.6 548.9h0M1263.3 527.2h0M1253.8 525h0M1251.9 516.4h0M1252.1 547.8h0M1255.2 508.9h0M1242.7 543.8h0M1247.9 532.8h0M1268.1 531.6h0M1237.9 523.5h0M1261.6 533.2h0M1260.7 522.7h0M1241.9 543.6h0M1235.8 526h0M1244.2 528.8h0M1268.7 502.9h0M1250.7 519.4h0M1235 540.4h0M1264.1 537.4h0M1264.3 524.4h0M1258.3 520.3h0M1273.7 495.3h0M1262.1 506.3h0M1250.6 534.1h0M1251.2 550.4h0M1252.8 545.3h0M1269.1 525.1h0M1278.6 518.6h0M1251.8 514.7h0M1247.5 524h0M1231.4 529.1h0M1275.9 510.8h0M1235.5 542.8h0M1258.7 521h0M1235.3 527.4h0M1260.6 539.1h0M1275.3 510h0M1251.6 511.7h0M1273.9 519h0M1267.3 515h0M1238.4 539.2h0M1265.7 503.9h0M1263 508.9h0M1250.9 518h0M1233.8 532.1h0M1239.4 524.2h0M1267.4 523.2h0M1278.7 521.3h0M1278.5 503.7h0M1254.5 517.8h0M1248 522.1h0M1279.1 513.1h0M1241.2 524.4h0M1277.6 500.7h0M1274 519.1h0M1253 524.9h0M1266.5 527.2h0M1276.5 504h0M1236.1 530.2h0M1272.1 511.7h0M1232.5 529.8h0M1263 518.2h0M1241.2 546.8h0M1249.7 539.4h0M1259.2 503.1h0M1243.9 536.1h0M1250 539.7h0M1260.7 523.5h0M1262.2 510.1h0M1245 543h0M1272.7 499.9h0M1252 534.7h0M1266.4 507.5h0M1254.6 515.6h0M1242.2 536.3h0M1247.4 556.7h0M1271.1 512.4h0M1276.9 519.4h0M1276.4 522.5h0M1253.2 548.4h0M1265.5 498.8h0M1266 531.3h0M1239.5 537.2h0M1275.7 511.7h0M1239.5 535h0M1276.4 498.5h0M1239.2 523.5h0M1239.6 523.9h0M1237.5 530h0M1281.9 521.1h0M1259.8 538.3h0M1272.9 494.8h0M1248.6 517.1h0M1252.4 529.3h0M1251.4 514.6h0M1242.6 540.1h0M1253.1 516.7h0M1251 526h0M1256 508h0M1251.8 518.2h0M1244.4 520.1h0M1255 508.7h0M1262.1 502.5h0M1258.3 539.1h0M1265.7 502.8h0M1248.3 526.6h0M1273.3 498.5h0M1243.5 520.7h0M1242.1 530.1h0M1268.2 528.9h0M1261.3 509.2h0M1237.5 535.9h0M1254 528.7h0M1264.8 532.2h0M1246 552.7h0M1246 537.1h0M1237 533.7h0M1265.8 515h0M1233.7 533.5h0M1263.2 505.7h0M1256.2 515.2h0M1271.3 496.6h0M1239.7 525.1h0M1267.1 509.5h0M1248.7 514.4h0M1273.3 504h0M1247.4 541.7h0M1268.5 515.9h0M1238.5 536h0M1273.3 516.6h0M1270.2 507.9h0M1276.5 529.2h0M1259.8 524.1h0M1254.5 519.5h0M1249.8 526.6h0M1255.5 511.9h0M1255 532.1h0M1248 541h0M1262.4 527.7h0M1268.8 515.7h0M1263.8 521.9h0M1268 517.3h0M1262.5 539.1h0M1271.8 497.4h0M1239.7 533.7h0M1242.9 528.1h0M1271.6 511.8h0M1265 531h0M1266.1 526.8h0M1267.2 509.2h0M1234.1 527.7h0M1260.8 510.1h0M1258 509.6h0M1266.3 519.3h0M1242.7 548.1h0M1249.9 552.6h0M1271.6 523.2h0M1245.2 536.1h0M1236.6 525.1h0M1244.1 537h0M1247.8 556.1h0M1272.9 510.4h0M1259 515.1h0M1264.4 532.4h0M1279 527.8h0M1264.3 520.4h0M1239.9 549.5h0M1249.7 549.9h0M1242.7 540.4h0M1265.2 512.2h0M1254.7 529.8h0M1255.2 519.4h0M1243.2 552.1h0M1261.4 522.4h0M1258.4 517.8h0M1262.9 531.7h0M1238.8 528.4h0M1263.1 525h0M1270.7 519.9h0M1268.2 513.9h0M1259.6 540.9h0M1261.3 531.1h0M1249.9 512.2h0M1265.3 519.4h0M1253.1 514.3h0M1244.5 532.8h0M1265 525.7h0M1264.3 535.6h0M1248.7 525h0M1265.4 534.9h0M1247.9 545.4h0M1255.9 519.9h0M1267.4 526.6h0M1231.6 530.5h0M1269.8 512.9h0M1277.5 527.2h0M1284 518.9h0M1260.8 503.9h0M1278.1 502.7h0M1278.2 511h0M1256.6 524h0M1237 537.9h0M1239.8 541.6h0M1250.4 542.3h0M1277.5 510.5h0M1250.7 539.2h0M1242.2 545.4h0M1265.1 500.4h0M1239.6 549.1h0M1274.5 501h0M1232.4 530.6h0M1276 507.4h0M1270.6 488.8h0M1268.1 495.2h0M1245 554.1h0M1257.1 534.4h0M1246.9 521.1h0M1259.2 517.5h0M1253.3 549.7h0M1276.8 508.8h0M1256.4 543.2h0M1272.3 508.3h0M1246.8 551.1h0M1279.5 526.3h0M1257.6 519.1h0M1236.5 543.5h0M1259.3 510h0M1235.2 529.5h0M1239 527.3h0M1255.6 511.1h0M1282.1 523.3h0M1252.3 529.5h0M1267.5 533.4h0M1258.8 515.9h0M1235 538.4h0M1238.9 525.6h0M1268.7 518.2h0M1267.8 526.6h0M1278.2 521.5h0M1242.2 549.7h0M1234.2 537.5h0M1231 535.3h0M1258.4 530.6h0M1274 504.7h0M1278 527.9h0M1268.7 493.3h0M1240.5 543.2h0M1249 556.2h0M1270.3 510.2h0M1261 509.6h0M1259.2 525.7h0M1255 508.6h0M1249.7 544.5h0M1246.4 539.3h0M1239.2 542.6h0M1244.7 535.7h0M1263 510.6h0M1242.4 534.3h0M1264 502h0M1268.5 491.6h0M1260.4 525.6h0M1283 518.6h0M1239.5 526.2h0M1252.1 546.5h0M1235.3 526.2h0M1266.5 516h0M1250.6 514.3h0M1265 524.8h0M1252.5 542.1h0M1243.2 527.8h0M1265.9 533.4h0M1270.4 512.7h0M1271.6 529.6h0M1274.8 530.1h0M1277 506.4h0M1255.5 527.1h0M1239.4 545.5h0M1272.7 492.5h0M1237.4 545.8h0M1269.9 493.3h0M1244.6 520.7h0M1257.9 527.5h0M1276.6 525.1h0M1238.6 531.6h0M1236 536.7h0M1270.6 496.7h0M1238.9 547h0M1233.9 533.3h0M1236.2 534.9h0M1253.7 535.4h0M1234.6 536h0M1266.9 529.7h0M1249.9 547.3h0M1272.3 503.9h0M1249.8 530.6h0M1284.5 520h0M1236 528.1h0M1261.6 507.3h0M1251.4 530.8h0M1243.2 540.3h0M1260.9 520.8h0M1240 529.8h0M1251 523.3h0M1280 521h0M1270.3 490.5h0M1249 544.7h0M1263.1 534.2h0M1252.3 548.5h0M1240.8 545.6h0M1263.7 537h0M1254.5 534.8h0M1251.9 530.1h0M1247.4 532.6h0M1283.5 520.8h0M1251.7 547.5h0M1276.4 502.9h0M1266 508.3h0M1248.1 546.1h0M1248.6 554.4h0M1278.6 522.3h0M1273.7 525.4h0M1255.1 518h0M1264.7 500.3h0M1240.8 536.9h0M1265.8 523.7h0M1245.4 537.8h0M1238.9 527.8h0M1262.5 527.3h0M1262 514.6h0M1241.5 535.9h0M1242.4 529h0M1274.5 501.1h0M1253.8 526.6h0M1268.1 516h0M1263 508.5h0M1248.1 519.7h0M1236.9 526.3h0M1243.5 534.4h0M1269.5 531h0M1279.1 508.5h0M1230.7 533.5h0M1275.3 514.4h0M1267.5 519.3h0M1253.8 538.9h0M1261.3 532.1h0M1242.7 538.6h0M1271.1 533.6h0M1261.1 542.4h0M1251.9 538h0M1269.6 511.9h0M1249.5 547.2h0M1265.9 519h0M1265.6 537h0M1265.2 528.6h0M1257.8 515.6h0M1244.8 542.1h0M1270 491h0M1256.5 546.7h0M1272 489h0M1276.1 521.3h0M1276.7 504.1h0M1260.8 533.5h0M1260.7 509h0M1247.6 550.9h0M1255.1 534.6h0M1245.1 518.1h0M1242.4 529.8h0M1259.2 537.9h0M1239.5 547.5h0M1266.2 508.3h0M1274.1 530.6h0M1243.8 553.5h0M1255.3 536.4h0M1251 525.1h0M1251.5 541.6h0M1264.6 521.4h0M1253.2 548.2h0M1271 512.4h0M1257.4 515.7h0M1241 551.2h0M1259.7 538.1h0M1264.9 509.1h0M1273.2 514.2h0M1238.8 525.5h0M1253.1 537.5h0M1241.6 549.6h0M1249.3 521.8h0M1246.1 546h0M1245.1 529.5h0M1257.3 530.2h0M1273.2 525.2h0M1255.9 539.2h0M1255 529.1h0M1238.7 529.6h0M1249.7 533.1h0M1247.2 545.5h0M1246.4 532.4h0M1267.7 496.9h0M1265.5 495h0M1259.2 539.7h0M1268.7 495.7h0M1282.8 514.8h0M1269.8 513.2h0M1247.3 521.6h0M1273.3 509.1h0M1268 518.1h0M1268.5 507.4h0M1232.9 535.9h0M1254.4 523.1h0M1252.8 519h0M1245 531.2h0M1273.3 502.7h0M1271.4 502.3h0M1272.2 528.2h0M1257.5 543.9h0M1239.5 531.7h0M1260.6 516.8h0M1247.8 557h0M1254.9 509.4h0M1246.1 529.6h0M1282.1 517h0M1276.5 518.4h0M1246.1 536.2h0M1238.1 537.8h0M1232.3 536.5h0M1240.6 548.8h0M1276 520.9h0M1263 512.7h0M1266.9 496.5h0M1233.2 535.9h0M1258.7 522.7h0M1245 554.1h0M1254.4 512.6h0M1270.2 508.8h0M1240.7 521.2h0M1236.3 527.7h0M1249.8 535.7h0M1251 532.4h0M1261.8 505.5h0M1278.1 519.7h0M1259.5 535.9h0M1278.6 503.4h0M1268.2 530.4h0M1241.7 525.9h0M1243.8 526.7h0M1267.6 505.6h0M1282 516.3h0M1242.9 539.7h0M1279.3 513.7h0M1269.7 510.8h0M1258.9 532.7h0M1251.3 513.2h0M1238.8 526.7h0M1278.1 505.4h0M1266.3 516.4h0M1261.1 516.5h0M1283.9 517.8h0M1246.8 549.3h0M1244.8 545.2h0M1260.7 507h0M1281.3 521.3h0M1261.1 500.3h0M1271 530.5h0M1240.5 544.1h0M1283.1 521.9h0M1283.2 519.6h0M1248.1 554.6h0M1267.6 496.4h0M1259.1 538.5h0M1235.1 534.2h0M1246.1 525.2h0M1242.9 553.6h0M1240.8 541.8h0M1249.2 550.5h0M1236.7 525.1h0M1260.7 502h0M1238.2 525h0M1253.3 522h0M1266.2 496.5h0M1245.5 555h0M1251.5 539.4h0M1240.8 534h0M1253.4 551.2h0M1262.8 523.8h0M1254.5 532.7h0M1251.1 521.3h0M1264.1 538.2h0M1268.3 517h0M1238.8 530.5h0M1257.3 529h0M1269.4 506.2h0M1274.2 524.5h0M1280.4 514.9h0M1249.3 537.8h0M1282.9 519h0M1251.4 514.5h0M1249.8 519.8h0M1270.7 507.6h0M1250.5 535h0M1254 539.8h0M1275.2 520.5h0M1249.5 544.1h0M1264.5 528.2h0M1207.9 561.4h0M1211.6 559.9h0M1231.4 563.5h0M1238.7 573.7h0M1213.5 563.4h0M1213.7 584.5h0M1236.5 573.3h0M1204.7 588.8h0M1210.1 589.5h0M1194.4 573.4h0M1223.7 541.4h0M1205.5 588.8h0M1211.3 568.9h0M1226.9 556.4h0M1218.1 584.5h0M1233 578.6h0M1204.9 576h0M1239.7 564.5h0M1206.8 581.4h0M1235.6 545.4h0M1223.5 558.4h0M1232.7 556h0M1210 577.9h0M1230.3 553.8h0M1231.3 547.8h0M1211.3 557.2h0M1220.1 586.2h0M1238.7 549.8h0M1204.3 565.3h0M1217.4 586.6h0M1200.6 574.2h0M1216.4 558.1h0M1213.3 573.4h0M1235.9 563.8h0M1205.3 561h0M1222 543.8h0M1216.9 587.9h0M1216.9 591.6h0M1231.8 539.7h0M1228.3 543.5h0M1215.1 590.2h0M1225.1 562.9h0M1226.2 571.4h0M1225.3 549.2h0M1204.2 568.5h0M1219.1 549.8h0M1219.6 579.2h0M1218.9 579.8h0M1231.2 557.3h0M1233.9 562.7h0M1221.8 573.1h0M1234 556.2h0M1212.5 587.3h0M1196.8 578.8h0M1217.6 564.1h0M1206.3 588.8h0M1238.6 575.3h0M1207.1 568.3h0M1219.3 590.2h0M1240.2 569.5h0M1239.4 561.3h0M1219.6 573.9h0M1203.6 567.7h0M1219.8 549.9h0M1227.5 538.9h0M1236.3 550h0M1200.5 572.3h0M1205.9 580.9h0M1218.5 548.1h0M1224.7 545.4h0M1217 567.8h0M1222.5 573.1h0M1225.9 560.3h0M1214.8 582.7h0M1207.8 557h0M1244.4 560.2h0M1213.5 587.7h0M1215.4 579.9h0M1232.3 561.9h0M1208.9 588.6h0M1236.3 576.7h0M1230 540.1h0M1210.4 559.4h0M1215.3 548.8h0M1225.1 575h0M1216 575h0M1223.7 580.8h0M1232.1 578.1h0M1199 582h0M1201.6 587.6h0M1230.4 543.2h0M1212.4 558.4h0M1227 563.2h0M1228.6 579.7h0M1215.8 561.9h0M1211.5 582.2h0M1222.3 573.9h0M1237 573.9h0M1240.7 559.3h0M1219.1 581.4h0M1238.8 565.2h0M1201.6 563.8h0M1231.5 566.6h0M1195.3 579h0M1229.2 551.6h0M1242.6 561.8h0M1209.3 577.5h0M1229.7 574.2h0M1198.8 580.3h0M1241 556.4h0M1220.8 563.7h0M1214.5 580h0M1220.1 553h0M1233.5 562.5h0M1214.6 575.3h0M1203.5 584h0M1235.2 555.9h0M1235.2 564.7h0M1228.1 546.4h0M1234.5 571.1h0M1214.5 578.9h0M1206.7 578.1h0M1232.1 549.5h0M1234.8 570.4h0M1213.5 573.1h0M1239.5 563.4h0M1227.1 583.8h0M1213.9 564.6h0M1217 562.4h0M1231.6 549h0M1225.4 572.6h0M1199.7 583h0M1216 569.5h0M1212.2 575.8h0M1209.5 581.1h0M1221.5 555h0M1202.7 567.4h0M1213.4 590.1h0M1229.1 570.9h0M1242.1 567.1h0M1232.7 560.4h0M1196.6 577.5h0M1241.4 555.1h0M1222.9 558.8h0M1233.9 553.3h0M1220.5 545.8h0M1230 540.8h0M1227.4 537.2h0M1217.8 565.3h0M1212.4 588.3h0M1224.7 542.9h0M1224.7 565.9h0M1232.1 548.8h0M1214.8 589h0M1225.1 575.2h0M1234.4 560.3h0M1227.7 539.1h0M1205.9 578.8h0M1208.6 566.9h0M1239.5 570.3h0M1210.1 587.8h0M1219.8 566.6h0M1222.9 583.9h0M1194.6 574.7h0M1238.8 563.4h0M1205.4 580h0M1216 547.7h0M1234.5 578h0M1237.3 561.7h0M1226.3 540h0M1230 545.4h0M1220.7 583.1h0M1195.5 573.3h0M1242.8 560.4h0M1237.6 547.2h0M1225.3 576.9h0M1197.3 569.8h0M1199.5 567.7h0M1231.1 544.8h0M1210.6 580h0M1226.8 565.3h0M1193.1 575.5h0M1218.1 584.8h0M1203.5 566.5h0M1229.9 577.7h0M1237.7 564.9h0M1233.5 579.9h0M1232.1 551.1h0M1223.8 581.7h0M1240.7 551.8h0M1224.5 561.2h0M1227.8 580.8h0M1203 564.5h0M1204.5 579.5h0M1243.2 558h0M1240.5 563.6h0M1219.3 569.7h0M1209.3 566.4h0M1225.3 548h0M1226.7 534h0M1216.4 566.5h0M1205 562.6h0M1222.2 580.3h0M1205.6 570h0M1231.9 565.7h0M1212 562.8h0M1228.8 558.3h0M1232.6 577.1h0M1233.4 558.1h0M1208.7 565.8h0M1203.6 581.5h0M1213.9 588.8h0M1240.2 565.9h0M1230 535.6h0M1227.8 545.8h0M1202.8 569.1h0M1200.7 579.5h0M1213.7 578.9h0M1211.2 568.1h0M1228.3 558.6h0M1230.2 582.3h0M1218.4 548.8h0M1197.8 574.3h0M1227.6 552.8h0M1215.3 588.2h0M1218.7 553.1h0M1235.5 567.3h0M1215.2 565.5h0M1219.8 566.3h0M1210 581.1h0M1220.8 546.2h0M1224.3 578.8h0M1219.7 551.5h0M1222.1 573.5h0M1202.6 585.4h0M1214.8 557.2h0M1220.8 577.7h0M1241.2 568.8h0M1207.9 570.4h0M1216.5 574.3h0M1213.3 558.8h0M1237 558.3h0M1222.1 577.7h0M1239.7 567.1h0M1234.5 572.4h0M1200.1 566.9h0M1213.1 554.1h0M1221.4 557.2h0M1225.2 556h0M1214 581.7h0M1236.3 559.3h0M1235.8 577.6h0M1204.5 572.3h0M1241 553.6h0M1205.2 576.8h0M1226.4 555.8h0M1230.8 543.3h0M1218.7 578.4h0M1229.3 573.3h0M1212.8 562.7h0M1217.2 583.5h0M1212.6 581.6h0M1232.9 543.3h0M1210.9 579.5h0M1230.2 569.1h0M1239.7 552h0M1240.3 551.4h0M1202.7 584.2h0M1200.8 585.2h0M1236.4 557.8h0M1228.1 534.2h0M1218.6 561.4h0M1231.6 543.1h0M1235.7 551.6h0M1214.3 586h0M1232.7 575.8h0M1235.6 557.5h0M1211.5 563.5h0M1230.6 560.6h0M1242.6 556.9h0M1217.7 547h0M1204.3 569.7h0M1223.5 576.4h0M1221.2 569.1h0M1221.3 560.7h0M1210.7 562.6h0M1216.7 564.9h0M1209.8 568.6h0M1224.2 559.1h0M1217.6 546.2h0M1236.3 560.9h0M1224 557h0M1228.5 565.6h0M1207.8 576.6h0M1227.6 574.4h0M1228.7 553.3h0M1225.5 542.5h0M1212.6 562.3h0M1227.1 578h0M1228.1 550.7h0M1219.6 569.9h0M1214.7 586h0M1234.9 573.6h0M1201.7 579.6h0M1211.5 581.3h0M1206.8 588.1h0M1209.2 581.4h0M1234 564h0M1221.8 549.6h0M1217.4 559.9h0M1224.4 554.8h0M1219.1 573.6h0M1233.1 550.5h0M1199.3 573.5h0M1199.5 581.6h0M1236.8 562.5h0M1229.1 547.6h0M1197.9 572.6h0M1213.4 553.9h0M1235.9 544.5h0M1222 577.3h0M1231.7 573.8h0M1223.3 569.4h0M1204.7 579.5h0M1233.8 547h0M1243 557h0M1242.3 570.2h0M1220.7 548.5h0M1215.3 586.8h0M1215.6 562.3h0M1242.6 556h0M1231 539.3h0M1235.6 562h0M1193.9 574.9h0M1196 572.9h0M1234.1 551.6h0M1205 565.5h0M1207.5 586.9h0M1226.5 559h0M1207.9 580.1h0M1205.7 570.5h0M1229.2 557.1h0M1211.1 570.1h0M1209.1 560.2h0M1228 548.6h0M1200 571.3h0M1228 532.2h0M1216.1 582.9h0M1224.8 572.6h0M1241.3 567.3h0M1240 571.6h0M1211.1 574.7h0M1207.3 562.4h0M1226.6 578.7h0M1206 577.4h0M1222.1 569.8h0M1197.7 569.9h0M1235.6 555.1h0M1216.2 569.6h0M1238.3 573.3h0M1229.3 545.5h0M1230.8 571.3h0M1218.8 552.5h0M1237.8 559.4h0M1222.8 570.1h0M1207.1 565.3h0M1213.7 587.7h0M1194.6 577.2h0M1241.4 558.5h0M1213 569.5h0M1242.1 570.7h0M1219.7 559.7h0M1235.7 576.5h0M1228.7 552h0M1240.6 559.4h0M1222.3 551.2h0M1201.9 573h0M1232.8 544.9h0M1215.9 586.8h0M1234.6 579.3h0M1224.1 543.9h0M1227.9 566.8h0M1221.1 587.2h0M1210.4 570.4h0M1198.3 584.9h0M1231.6 576.5h0M1216 585h0M1199 581.8h0M1232.6 545.8h0M1228.4 562.8h0M1223.4 557.1h0M1223.3 565.7h0M1201.5 570h0M1224.6 555.5h0M1194.7 576.8h0M1220.3 543.9h0M1224.1 560.5h0M1204.8 572.8h0M1210.9 578.7h0M1226.4 566.4h0M1198.1 581.6h0M1205.6 563.7h0M1217.4 548.7h0M1243.8 559.7h0M1199.6 576.7h0M1201.6 576.8h0M1220.8 577h0M1225.5 585.8h0M1233 555h0M1212.7 582.6h0M1230.3 552.4h0M1229.8 559.9h0M1201.9 564h0M1203.7 583.7h0M1222.7 561.7h0M1206.8 558h0M1217.6 551h0M1208.3 561.4h0M1223.6 556.4h0M1224.8 556.9h0M1219.6 561.2h0M1224.3 577.7h0M1227.4 545.2h0M1199.8 578.4h0M1223.8 540.8h0M1211.5 564.3h0M1227.2 541.1h0M1207.4 578.5h0M1245 560.6h0M1213.5 571.9h0M1199.2 572.8h0M1199.5 571.7h0M1214.8 580.8h0M1219.8 562.2h0M1216.2 581.4h0M1228.6 546.3h0M1213.7 578.2h0M1215.9 558.2h0M1222.3 582.1h0M1204.9 578.1h0M1212.4 589.6h0M1236.3 567.6h0M1213.7 563.2h0M1241.7 561h0M1223.2 561.8h0M1206.5 573.2h0M1226.5 577h0M1218.9 587.9h0M1221.1 551h0M1197 580.6h0M1217.3 582.7h0M1199 582.9h0M1216.9 568.5h0M1213.7 574.4h0M1210.5 562.9h0M1218.2 552.7h0M1225.9 540h0M1238 565.6h0M1196.5 577.9h0M1212.8 581h0M1198.1 575.4h0M1230.2 566.1h0M1226 559.9h0M1215.9 560.6h0M1225.6 583h0M1210.9 565.5h0M1201.8 576.9h0M1216.2 550h0M1219.1 588.1h0M1191.6 596.7h0M1151.8 619.1h0M1173.7 615.9h0M1196.3 596.7h0M1164.1 617.8h0M1167.1 595h0M1175.3 590.2h0M1160 620.6h0M1154 607.8h0M1161.7 613.9h0M1160.3 611.9h0M1184.4 600.3h0M1181 587.5h0M1175.1 610.6h0M1164.9 619.3h0M1184.1 582.5h0M1171.9 604.1h0M1166.1 619.7h0M1156.2 610h0M1148.7 619.6h0M1156.1 633h0M1167 626.2h0M1156.9 634.2h0M1183.8 588.3h0M1197.3 600.7h0M1161.7 613.2h0M1178.4 592.4h0M1175.4 592.1h0M1190.6 596.6h0M1191.7 583h0M1152.5 625.8h0M1156 609.6h0M1201 597.8h0M1180 597.8h0M1176.5 595.7h0M1206.3 597.2h0M1153.1 627.4h0M1196.4 594.3h0M1178.2 613.8h0M1177 606.7h0M1178 599.6h0M1186.4 598.7h0M1166.4 600h0M1179.1 588.9h0M1196.3 589.1h0M1203.7 597.2h0M1191.8 588h0M1174.2 592.8h0M1167.8 611.3h0M1176.1 612.4h0M1166.6 625.5h0M1154.7 608.6h0M1196.5 594h0M1155.9 617.4h0M1153.2 614.1h0M1163.6 606.7h0M1170.4 595h0M1191.4 604.5h0M1189.2 594.5h0M1185.1 598h0M1175.1 609.1h0M1160.3 614.9h0M1184.2 599.3h0M1174.4 588.5h0M1194.5 596.8h0M1195.3 600.8h0M1153.8 627.1h0M1159.5 622.6h0M1195.2 582.2h0M1170.2 609h0M1181.1 590.7h0M1200.8 594.7h0M1199.3 596.6h0M1157.8 604.9h0M1168.7 604.3h0M1170.8 604.6h0M1178.6 612.3h0M1201.8 593h0M1161.6 602.6h0M1186.3 592.1h0M1160.7 603.4h0M1187.4 588.4h0M1166.8 600.3h0M1178.9 587.2h0M1166.9 620h0M1194 580.1h0M1178.4 603.9h0M1167.5 599h0M1165.8 618.7h0M1194.8 580.4h0M1154.1 627h0M1189.4 606.3h0M1163.9 627.1h0M1161.6 617.2h0M1164.3 598.1h0M1207.2 592.8h0M1208.6 590.9h0M1178.9 614.7h0M1170.7 598.5h0M1202 591h0M1187.8 595.1h0M1198.4 600.1h0M1170.8 594h0M1163.7 613.3h0M1159.1 630.1h0M1183.1 594.2h0M1176.9 616.1h0M1176.3 587.9h0M1190.9 603.2h0M1163.9 625.5h0M1207.5 590.7h0M1158.9 604.7h0M1166.5 614.7h0M1194.6 602.3h0M1187.1 592.1h0M1159.5 627.2h0M1185 594.3h0M1166.3 595.2h0M1182.4 584.5h0M1177.5 596h0M1172.9 597h0M1166.9 619.9h0M1170.2 615.6h0M1191.7 581.5h0M1167.6 602.3h0M1192.1 597.9h0M1162.9 606.6h0M1158.9 623h0M1155.4 621.5h0M1193.9 588.8h0M1200.9 595.3h0M1207.2 591.7h0M1206.6 596.2h0M1187.5 593.9h0M1189.8 578.5h0M1171.2 596.2h0M1156.2 619h0M1169.1 597.5h0M1180.2 604.4h0M1191.2 605.4h0M1182.3 587.2h0M1178.7 611.1h0M1169.2 601.9h0M1186.7 588.1h0M1181.2 606.3h0M1181.8 599.6h0M1180.8 594.3h0M1194 595.5h0M1161.9 606h0M1176 606.5h0M1159.7 629.8h0M1162.5 607.7h0M1152.4 624.5h0M1161.3 606.2h0M1167.2 604.3h0M1160.9 605.5h0M1184.4 595.3h0M1181 589.8h0M1172.6 621.6h0M1157.7 622.3h0M1157 608.8h0M1183 592.3h0M1156.8 607.7h0M1196.8 596.6h0M1191.5 590.5h0M1174.5 597.7h0M1176.1 601.7h0M1188.8 578.3h0M1180.8 611.6h0M1172.3 600h0M1177 589.5h0M1175 590.5h0M1197.7 595.8h0M1166.8 623.2h0M1204.3 593.7h0M1146.8 614.7h0M1162.4 626.3h0M1204.6 590.2h0M1198.8 596.1h0M1186.5 580.6h0M1152.1 627.1h0M1177.9 609.4h0M1195.2 580.1h0M1153.2 618.4h0M1168.8 613.3h0M1185.4 603.8h0M1184.2 602.4h0M1159.5 628.4h0M1185.5 600h0M1186.1 601h0M1154.4 615.4h0M1184.8 598.8h0M1171.5 617.6h0M1195.4 602.5h0M1161.4 610.7h0M1161.2 606.6h0M1198.8 600.3h0M1202.5 596.3h0M1192 589.4h0M1150.5 625.4h0M1167.7 620.5h0M1182.7 596.2h0M1173.9 593.9h0M1193.1 591.9h0M1178.2 592.8h0M1213 591.8h0M1173.4 621h0M1166 618.3h0M1165.6 623.8h0M1166.6 622.6h0M1194.4 600.2h0M1170.2 604.5h0M1183.1 611.8h0M1184.3 600.8h0M1197 602.1h0M1188.9 585.2h0M1170 597.1h0M1174.9 597.1h0M1197.4 584.7h0M1159 612.8h0M1191.6 598.4h0M1194.2 602.1h0M1167.6 593.8h0M1196.6 585.1h0M1158.4 623.3h0M1164.9 615.7h0M1181 592.2h0M1210.4 593h0M1157.9 624.6h0M1180.7 589.6h0M1189.3 601.3h0M1184.9 601.8h0M1207.5 591.1h0M1190.8 579.6h0M1160.6 624.4h0M1173.1 593.1h0M1185.7 609.5h0M1185.5 595.8h0M1161.7 623h0M1150.5 610.6h0M1203.1 590.9h0M1152.2 618.7h0M1170.3 612.5h0M1177.6 594.1h0M1179.9 607.6h0M1170.8 591.5h0M1171.5 616.1h0M1196.6 597.6h0M1155.9 615.4h0M1161.8 608.9h0M1208.3 595.4h0M1165.5 607.5h0M1171 606.4h0M1188.9 581.7h0M1194.8 584.5h0M1164.8 626.4h0M1182.6 603h0M1168.7 606h0M1201.1 596.6h0M1195.6 603.7h0M1196.5 598.4h0M1165.4 618h0M1177.4 600.5h0M1173.8 596.8h0M1206.4 590.7h0M1159.6 627.3h0M1190.3 600.7h0M1181.2 599.3h0M1170.2 621.3h0M1166.5 602.2h0M1167 621.4h0M1186.4 593.4h0M1181 597.6h0M1194.5 583h0M1182.3 600.3h0M1159.1 629.5h0M1150.4 611.5h0M1128.8 626.7h0M1140.2 643.4h0M1063.8 687.3h0M1069 678.9h0M1098.8 660.1h0M1081.2 670.2h0M1141.6 624h0M1072.5 673.7h0M1117.9 635.6h0M1149.9 627.7h0M1116.8 651.6h0M1102.2 667.4h0M1138.8 634.1h0M1141.1 642h0M1117.2 649.8h0M1150.3 627.4h0M1089.5 671.6h0M1127.5 634.3h0M1150.9 630.5h0M1136.3 631.2h0M1128.5 639.9h0M1123 640h0M1128.6 632.5h0M1067.4 687.9h0M1131.7 625.5h0M1093.9 663.5h0M1063.5 686.7h0M1093.1 673.4h0M1077 680.5h0M1070.1 681.9h0M1118.6 636.5h0M1132.2 621.9h0M1128.4 627.8h0M1118.1 642.8h0M1117.1 646.5h0M1117.1 645.1h0M1114.5 641.5h0M1116 643.9h0M1151.2 627.3h0M1151.4 624.3h0M1154.3 626.2h0M1153 624.7h0M1152.4 623.3h0M1068.5 677.8h0M1060.5 680.6h0M1064.3 677.9h0M1079.4 681.5h0M1082.2 677h0M1081.7 681.4h0M1078 683.4h0M1082.3 681.7h0M1078.1 680.2h0M1085.2 672.8h0M1087.1 670.7h0M1069 687.7h0M1072.8 683.8h0M1108.7 650.6h0M1107.9 655.4h0M1107.7 654.4h0M1107.6 650.2h0M1114.3 653.8h0M1105.7 651.8h0M1085.8 672.5h0M1082.1 675.3h0M1082 671h0M1076.1 670.7h0M1078.6 674h0M1081.7 669.8h0M1062.4 686.8h0M1061.1 684.9h0M1065.4 682.2h0M1064.1 682h0M1061 688.5h0M1080.6 688.1h0M1083.9 687.7h0M1073.9 685h0M1074.4 683.2h0M1078.5 688.3h0M1138.2 631h0M1140.3 632.2h0M1137.1 635.3h0M1139.5 631.7h0M1138 636.7h0M1099.5 659.6h0M1101.9 663.7h0M1097.6 665.7h0M1099.4 662.3h0M1135.4 622.9h0M1133.5 627.6h0M1137.4 625.7h0M1139.2 623h0M1137.3 624.9h0M1136.7 628.5h0M1133 643.7h0M1132.1 640h0M1098.7 666.8h0M1099.8 667h0M1096.4 664.9h0M1098.5 666.7h0M1064.2 688.8h0M1066.9 688.9h0M1067.9 691.1h0M1067.9 689h0M1063.6 688.7h0M1070 685.8h0M1072 679.2h0M1068.2 683.1h0M1069.1 682.5h0M1070.1 684.5h0M1093.6 663.3h0M1091.1 665.8h0M1094.6 664.3h0M1095.5 665.6h0M1125.4 639.2h0M1125.4 639.9h0M1131.6 639h0M1130.8 640h0M1110.5 658.9h0M1110.1 661.5h0M1110.3 657.7h0M1112.1 661.7h0M1113.8 657.2h0M1106.3 657.6h0M1066.5 687.2h0M1066.3 684.5h0M1069.6 685.1h0M1069.4 684.1h0M1071.3 683h0M1287.9 518h0M1272.3 544h0M1248.7 564.1h0M1288.1 518.3h0M1270.9 546.6h0M1251 562.6h0M1300.4 508.3h0M1272.1 534.9h0M1313.6 502.7h0M1261.2 559h0M1266.7 552.6h0M1292 512.8h0M1307.1 506.8h0M1280.2 537.5h0M1250.8 575.2h0M1305 512.4h0M1287.4 537.6h0M1305 507.2h0M1293.4 531h0M1265.6 552.1h0M1164.6 630.2h0M1189.6 619.6h0M1162.4 639.7h0M1189.1 618.1h0M1171.4 624.1h0M1225.2 588.7h0M1192.3 613h0M1218.9 594.5h0M1201.6 602.6h0M1160.6 641.8h0M1226.6 585.1h0M1183.6 616.1h0M1168.9 628h0M1229.5 591.6h0M1194 616.9h0M1166.1 635.3h0M1181 616h0M1180.4 622.8h0M1237.8 583.2h0M1230.5 586h0M1170.8 624.6h0M1214.9 601.8h0M1215.4 598.6h0M1160.2 640h0M1165.1 628.4h0M1160.7 633.6h0" stroke="#ff7f50" stroke-width="3" stroke-linecap="round" fill="none"/>
<line x1="1031.8" y1="744.4" x2="1787.4" y2="9.4" stroke="#000" stroke-width="4.7" stroke-dasharray="18.4 7.95"/>
</g>
<rect x="1031.8" y="9.4" width="755.6" height="735" fill="none" stroke="#000" stroke-width="3" stroke-linejoin="miter"/>
<path d="M1085.8 744.4v11.6M1031.8 692.3h-11.6M1301.8 744.4v11.6M1031.8 482.3h-11.6M1517.8 744.4v11.6M1031.8 272.3h-11.6M1733.8 744.4v11.6M1031.8 62.3h-11.6" stroke="#000" stroke-width="3" fill="none"/>
<text x="1085.8" y="793.1" text-anchor="middle">−4</text>
<text x="1008.7" y="705.2" text-anchor="end">−4</text>
<text x="1301.8" y="793.1" text-anchor="middle">−2</text>
<text x="1008.7" y="495.2" text-anchor="end">−2</text>
<text x="1517.8" y="793.1" text-anchor="middle">0</text>
<text x="1008.7" y="285.2" text-anchor="end">0</text>
<text x="1733.8" y="793.1" text-anchor="middle">2</text>
<text x="1008.7" y="75.2" text-anchor="end">2</text>
<text x="1063.9" y="63.3">(b)</text>
<text x="1409.4" y="586.4">R</text>
<text x="1432.9" y="574.4" font-size="23.2">2</text>
<text x="1448.8" y="586.4">=0.991</text>
<text x="1339.3" y="639.3">RMSE=0.033</text>
<text x="1276.4" y="839.6" font-style="italic">φ</text>
<text x="1298.2" y="843.6" font-style="italic" font-size="23.2">QM</text>
<text x="1348.4" y="839.6">(kcal/mol/e)</text>
<g transform="rotate(-90)">
<text x="-510.7" y="31.6" font-style="italic">φ</text>
<text x="-488.9" y="35.6" font-style="italic" font-size="23.2">MM</text>
<text x="-438.7" y="31.6">(kcal/mol/e)</text>
</g>
</svg>
</body></html>
